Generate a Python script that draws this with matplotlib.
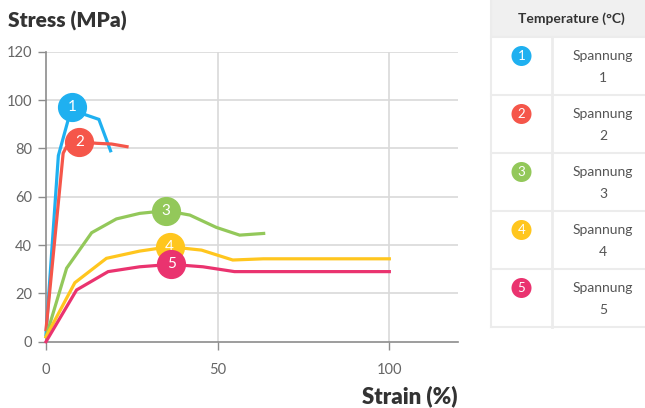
import matplotlib
matplotlib.use("Agg")
import matplotlib.pyplot as plt
from matplotlib.patches import Rectangle, Circle

plt.rcParams['font.family'] = ['Lato', 'DejaVu Sans']

# strain (%) / stress (MPa)
strain_1 = [0, 3.6, 6.5, 7.5, 11.3, 15.4, 18.8]
stress_1 = [3, 77, 92, 97, 94, 92, 79]
strain_2 = [0, 5.0, 5.9, 9.7, 14.7, 19.1, 23.6]
stress_2 = [5, 78, 80.5, 82.8, 82.1, 81.8, 80.7]
strain_3 = [0, 6.0, 13.3, 20.5, 27.3, 34.9, 41.9, 49.6, 56.4, 63.4]
stress_3 = [2, 30.4, 45.1, 50.8, 53.1, 54.2, 52.4, 47.3, 44.1, 44.8]
strain_4 = [0, 8.4, 17.6, 27.3, 36.0, 45.3, 54.4, 63.3, 100]
stress_4 = [2, 24.4, 34.5, 37.5, 39.3, 37.9, 33.8, 34.3, 34.3]
strain_5 = [0, 8.9, 18.1, 27.3, 36.5, 45.7, 54.9, 100]
stress_5 = [0, 21.4, 29.0, 31.0, 32.0, 31.0, 29.0, 29.0]

series_names = ['Spannung', 'Spannung', 'Spannung', 'Spannung', 'Spannung']
labels = ['1', '2', '3', '4', '5']
colors = ['#1fb0f0', '#f5564a', '#93c85a', '#ffc61e', '#ea336f']

xs = [strain_1, strain_2, strain_3, strain_4, strain_5]
ys = [stress_1, stress_2, stress_3, stress_4, stress_5]

W, H = 645, 408
fig = plt.figure(figsize=(W / 100, H / 100), dpi=100)
ax = fig.add_axes([46 / W, (H - 341.7) / H, (458 - 46) / W, (341.7 - 51.7) / H])

grid_c = '#d9d9d9'
ax.set_xlim(0, 120)
ax.set_ylim(0, 120)
ax.set_xticks([0, 50, 100])
ax.set_yticks([0, 20, 40, 60, 80, 100, 120])
for v in [20, 40, 60, 80, 100, 120]:
    ax.axhline(v, color=grid_c, lw=1.2, zorder=0)
for v in [50, 100]:
    ax.axvline(v, color=grid_c, lw=1.2, zorder=0)
for s in ['top', 'right']:
    ax.spines[s].set_visible(False)
for s in ['left', 'bottom']:
    ax.spines[s].set_color('#8c8c8c')
    ax.spines[s].set_linewidth(1.2)
ax.tick_params(axis='y', length=6, width=1, color='#8c8c8c', labelcolor='#666666',
               labelsize=10.5, pad=4)
ax.tick_params(axis='x', length=6, width=1, color='#8c8c8c', labelcolor='#666666',
               labelsize=10.5, pad=9)

# lines first, then peak markers on top
for x, y, c in zip(xs, ys, colors):
    ax.plot(x, y, color=c, lw=2.3, solid_joinstyle='miter', zorder=3, clip_on=False)
for i, (x, y, c) in enumerate(zip(xs, ys, colors)):
    k = y.index(max(y))
    ax.plot(x[k], y[k], 'o', ms=20, color=c, mec=c, zorder=5 + i, clip_on=False)
    ax.text(x[k], y[k], labels[i], color='white', fontsize=11, ha='center',
            va='center', zorder=5 + i)

fig.text(8 / W, 1 - 21 / H, 'Stress (MPa)', fontsize=15, fontweight='heavy',
         color='#333333', ha='left', va='center')
fig.text(458 / W, 1 - 396 / H, 'Strain (%)', fontsize=16, fontweight='heavy',
         color='#333333', ha='right', va='center')

# table on the right
tb = fig.add_axes([0, 0, 1, 1], zorder=10)
tb.set_xlim(0, W)
tb.set_ylim(H, 0)
tb.axis('off')
border = '#ececec'
tb.add_patch(Rectangle((491, 0), 160, 37, facecolor='#f0f0f0', edgecolor='none'))
tb.text(571, 19, 'Temperature (°C)', fontsize=10, fontweight='bold', color='#333333',
        ha='center', va='center')
row_h = 58
top = 37
tb.plot([491, 491], [0, top + 5 * row_h], color=border, lw=1.5)
tb.plot([552, 552], [top, top + 5 * row_h], color=border, lw=2)
for i in range(6):
    yy = top + i * row_h
    tb.plot([491, W], [yy, yy], color=border, lw=1.5)
for i in range(5):
    cy = top + i * row_h + 19
    tb.add_patch(Circle((521.5, cy), 10, facecolor=colors[i], edgecolor='none'))
    tb.text(521.5, cy, labels[i], color='white', fontsize=9.5, ha='center', va='center')
    tb.text(603, cy, series_names[i], color='#555555', fontsize=10, ha='center',
            va='center')
    tb.text(603, cy + 22, labels[i], color='#555555', fontsize=10, ha='center',
            va='center')

fig.savefig('out.png', dpi=100)
